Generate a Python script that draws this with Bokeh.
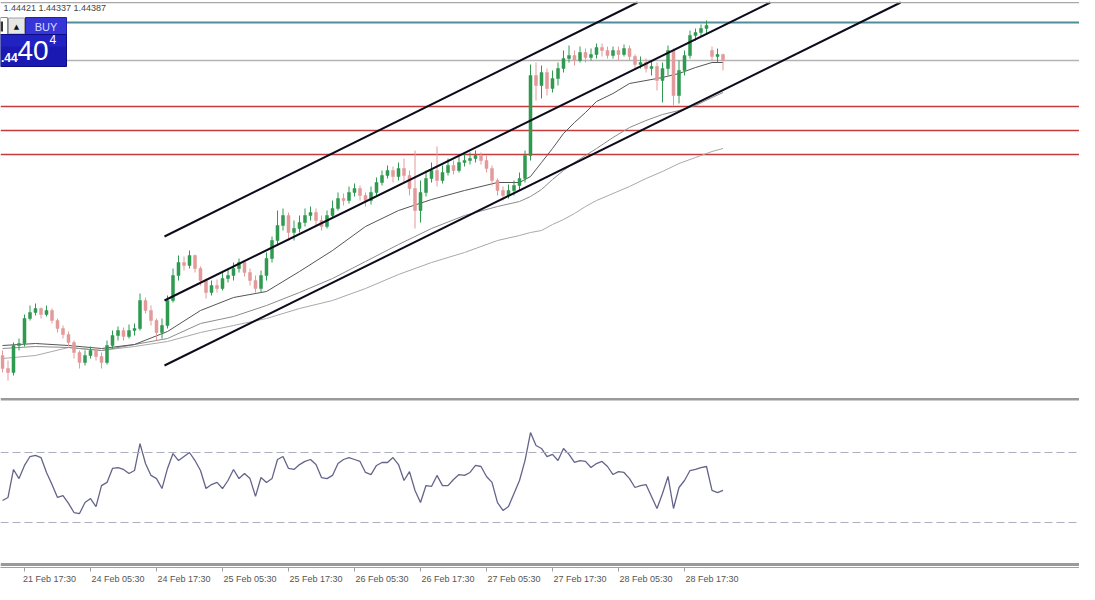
from bokeh.plotting import figure
from bokeh.models import Range1d, LinearAxis, FixedTicker, Span, Label, ColumnDataSource
from bokeh.embed import file_html
from bokeh.resources import INLINE

# ---------------- data ----------------
opens = [1.42912, 1.42847, 1.42827, 1.42962, 1.42972, 1.43097, 1.43127, 1.43147, 1.43117, 1.43137,
         1.43087, 1.43047, 1.43017, 1.42977, 1.42927, 1.42877, 1.42912, 1.42937, 1.42907, 1.42877,
         1.42962, 1.43012, 1.43037, 1.43007, 1.43037, 1.43047, 1.43187, 1.43137, 1.43087, 1.43027,
         1.43062, 1.43187, 1.43312, 1.43377, 1.43362, 1.43412, 1.43347, 1.43287, 1.43227, 1.43262,
         1.43247, 1.43297, 1.43312, 1.43347, 1.43377, 1.43327, 1.43287, 1.43247, 1.43312, 1.43397,
         1.43487, 1.43562, 1.43612, 1.43527, 1.43547, 1.43577, 1.43612, 1.43627, 1.43587, 1.43557,
         1.43612, 1.43647, 1.43697, 1.43687, 1.43727, 1.43747, 1.43712, 1.43687, 1.43727, 1.43777,
         1.43812, 1.43837, 1.43807, 1.43847, 1.43812, 1.43747, 1.43637, 1.43727, 1.43797, 1.43837,
         1.43787, 1.43827, 1.43862, 1.43837, 1.43877, 1.43887, 1.43897, 1.43912, 1.43887, 1.43847,
         1.43787, 1.43737, 1.43712, 1.43737, 1.43762, 1.43797, 1.43912, 1.44312, 1.44262, 1.44327,
         1.44247, 1.44297, 1.44347, 1.44397, 1.44412, 1.44387, 1.44427, 1.44402, 1.44417, 1.44452,
         1.44437, 1.44412, 1.44437, 1.44417, 1.44447, 1.44407, 1.44367, 1.44377, 1.44347, 1.44357,
         1.44287, 1.44347, 1.44437, 1.44212, 1.44337, 1.44412, 1.44512, 1.44527, 1.44547, 1.44437,
         1.44407, 1.44417]
highs = [1.42937, 1.42887, 1.42977, 1.42997, 1.43117, 1.43162, 1.43172, 1.43152, 1.43162, 1.43147,
         1.43097, 1.43062, 1.43032, 1.42987, 1.42937, 1.42937, 1.42957, 1.42952, 1.42927, 1.42987,
         1.43037, 1.43057, 1.43052, 1.43067, 1.43072, 1.43222, 1.43202, 1.43162, 1.43097, 1.43097,
         1.43212, 1.43347, 1.43412, 1.43407, 1.43437, 1.43417, 1.43357, 1.43297, 1.43287, 1.43292,
         1.43327, 1.43347, 1.43377, 1.43397, 1.43387, 1.43347, 1.43312, 1.43337, 1.43427, 1.43507,
         1.43637, 1.43647, 1.43627, 1.43587, 1.43612, 1.43647, 1.43657, 1.43647, 1.43612, 1.43637,
         1.43687, 1.43727, 1.43722, 1.43757, 1.43772, 1.43762, 1.43727, 1.43757, 1.43802, 1.43837,
         1.43862, 1.43857, 1.43877, 1.43897, 1.43837, 1.43937, 1.43787, 1.43837, 1.43877, 1.43957,
         1.43862, 1.43897, 1.43887, 1.43912, 1.43922, 1.43927, 1.43937, 1.43927, 1.43912, 1.43862,
         1.43797, 1.43757, 1.43767, 1.43787, 1.43827, 1.43937, 1.44367, 1.44377, 1.44362, 1.44347,
         1.44337, 1.44377, 1.44437, 1.44462, 1.44437, 1.44457, 1.44447, 1.44447, 1.44472, 1.44472,
         1.44457, 1.44457, 1.44457, 1.44467, 1.44462, 1.44417, 1.44407, 1.44397, 1.44387, 1.44377,
         1.44377, 1.44462, 1.44447, 1.44387, 1.44437, 1.44537, 1.44547, 1.44567, 1.44587, 1.44457,
         1.44447, 1.44421]
lows = [1.42827, 1.42787, 1.42812, 1.42937, 1.42957, 1.43087, 1.43112, 1.43097, 1.43107, 1.43072,
        1.43027, 1.42997, 1.42957, 1.42897, 1.42847, 1.42862, 1.42897, 1.42887, 1.42847, 1.42867,
        1.42947, 1.42987, 1.42987, 1.42997, 1.43012, 1.43037, 1.43122, 1.43062, 1.42987, 1.42997,
        1.43047, 1.43177, 1.43287, 1.43337, 1.43347, 1.43327, 1.43262, 1.43197, 1.43212, 1.43227,
        1.43237, 1.43277, 1.43287, 1.43327, 1.43307, 1.43262, 1.43227, 1.43227, 1.43287, 1.43377,
        1.43462, 1.43537, 1.43487, 1.43487, 1.43527, 1.43557, 1.43587, 1.43562, 1.43537, 1.43547,
        1.43597, 1.43637, 1.43662, 1.43672, 1.43707, 1.43687, 1.43657, 1.43667, 1.43712, 1.43762,
        1.43797, 1.43777, 1.43787, 1.43777, 1.43712, 1.43547, 1.43577, 1.43707, 1.43777, 1.43757,
        1.43772, 1.43812, 1.43817, 1.43827, 1.43857, 1.43867, 1.43877, 1.43867, 1.43827, 1.43762,
        1.43712, 1.43687, 1.43697, 1.43712, 1.43737, 1.43777, 1.43887, 1.44187, 1.44197, 1.44212,
        1.44227, 1.44262, 1.44327, 1.44377, 1.44362, 1.44377, 1.44377, 1.44387, 1.44397, 1.44407,
        1.44397, 1.44397, 1.44387, 1.44407, 1.44387, 1.44347, 1.44347, 1.44327, 1.44312, 1.44237,
        1.44177, 1.44312, 1.44162, 1.44172, 1.44312, 1.44397, 1.44487, 1.44507, 1.44517, 1.44387,
        1.44377, 1.44337]
closes = [1.42847, 1.42827, 1.42962, 1.42972, 1.43097, 1.43127, 1.43147, 1.43117, 1.43137, 1.43087,
          1.43047, 1.43017, 1.42977, 1.42927, 1.42877, 1.42912, 1.42937, 1.42907, 1.42877, 1.42962,
          1.43012, 1.43037, 1.43007, 1.43037, 1.43047, 1.43187, 1.43137, 1.43087, 1.43027, 1.43062,
          1.43187, 1.43312, 1.43377, 1.43362, 1.43412, 1.43347, 1.43287, 1.43227, 1.43262, 1.43247,
          1.43297, 1.43312, 1.43347, 1.43377, 1.43327, 1.43287, 1.43247, 1.43312, 1.43397, 1.43487,
          1.43562, 1.43612, 1.43527, 1.43547, 1.43577, 1.43612, 1.43627, 1.43587, 1.43557, 1.43612,
          1.43647, 1.43697, 1.43687, 1.43727, 1.43747, 1.43712, 1.43687, 1.43727, 1.43777, 1.43812,
          1.43837, 1.43807, 1.43847, 1.43812, 1.43747, 1.43637, 1.43727, 1.43797, 1.43837, 1.43787,
          1.43827, 1.43862, 1.43837, 1.43877, 1.43887, 1.43897, 1.43912, 1.43887, 1.43847, 1.43787,
          1.43737, 1.43712, 1.43737, 1.43762, 1.43797, 1.43912, 1.44312, 1.44262, 1.44327, 1.44247,
          1.44297, 1.44347, 1.44397, 1.44412, 1.44387, 1.44427, 1.44402, 1.44417, 1.44452, 1.44437,
          1.44412, 1.44437, 1.44417, 1.44447, 1.44407, 1.44367, 1.44377, 1.44347, 1.44357, 1.44287,
          1.44347, 1.44437, 1.44212, 1.44337, 1.44412, 1.44512, 1.44527, 1.44547, 1.44562, 1.44407,
          1.44417, 1.44387]
bars = list(range(len(closes)))

ma_bars = [0, 6, 12, 18, 24, 30, 36, 42, 48, 54, 60, 66, 72, 78, 84, 90,
           94, 96, 98, 100, 102, 104, 106, 108, 111, 114, 117, 120, 123, 126, 129, 131]
ma_fast = [1.42962, 1.42972, 1.42962, 1.42947, 1.42967, 1.43032, 1.43137, 1.43202, 1.43232, 1.43332,
           1.43437, 1.43557, 1.43637, 1.43692, 1.43737, 1.43777, 1.43777, 1.43807, 1.43877, 1.43947,
           1.44022, 1.44077, 1.44127, 1.44182, 1.44222, 1.44272, 1.44287, 1.44302, 1.44322, 1.44352,
           1.44377, 1.44377]
ma_mid = [1.42947, 1.42957, 1.42952, 1.42937, 1.42967, 1.42997, 1.43072, 1.43107, 1.43162, 1.43227,
          1.43297, 1.43382, 1.43467, 1.43547, 1.43612, 1.43657, 1.43682, 1.43707, 1.43742, 1.43792,
          1.43837, 1.43877, 1.43912, 1.43947, 1.44002, 1.44052, 1.44087, 1.44117, 1.44137, 1.44162,
          1.44202, 1.44227]
ma_slow = [1.42897, 1.42912, 1.42952, 1.42937, 1.42957, 1.42982, 1.43027, 1.43062, 1.43097, 1.43147,
           1.43187, 1.43247, 1.43317, 1.43377, 1.43427, 1.43487, 1.43512, 1.43527, 1.43537, 1.43567,
           1.43592, 1.43622, 1.43657, 1.43687, 1.43722, 1.43757, 1.43797, 1.43832, 1.43872, 1.43902,
           1.43932, 1.43947]

rsi = [42.6, 44.3, 60.3, 55.1, 62.6, 67.7, 68.3, 67.1, 58.6, 51.7,
       44.3, 45.4, 40.9, 35.7, 35.1, 41.4, 43.7, 39.1, 51.1, 52.9,
       60.9, 61.4, 60.3, 58.0, 59.7, 75.1, 63.7, 56.9, 55.1, 49.4,
       60.9, 69.4, 65.4, 67.7, 70.0, 65.4, 59.7, 49.4, 51.7, 52.9,
       49.4, 54.0, 60.3, 55.1, 58.0, 55.1, 44.9, 55.7, 52.9, 55.1,
       66.0, 67.7, 60.9, 60.3, 63.1, 64.9, 66.0, 63.1, 55.7, 55.1,
       56.9, 63.7, 66.0, 67.1, 66.0, 64.9, 58.6, 57.4, 62.6, 64.3,
       64.3, 67.1, 63.1, 54.0, 59.1, 48.3, 41.4, 51.1, 50.6, 56.9,
       51.1, 51.1, 54.6, 57.4, 56.9, 58.6, 62.6, 62.0, 56.3, 52.9,
       41.4, 36.9, 39.1, 46.6, 54.0, 65.4, 81.4, 74.0, 72.3, 67.7,
       68.9, 65.4, 72.3, 68.9, 64.3, 65.4, 64.9, 61.4, 63.7, 64.9,
       62.0, 57.4, 59.1, 58.6, 55.1, 50.0, 51.1, 51.7, 44.9, 38.0,
       46.6, 56.3, 38.0, 50.0, 54.0, 59.7, 60.3, 61.4, 62.0, 48.3,
       47.1, 48.3]
rsi_levels = [70, 30]

# trend channel (start bar, start price) -> (end bar, end price)
channel_x0 = [29.45, 29.45, 29.45]
channel_y0 = [1.43507, 1.43187, 1.42862]
channel_x1 = [115.45, 139.6, 163.3]
channel_y1 = [1.44677, 1.44677, 1.44677]

level_teal = 1.44577
level_bid = 1.44387
levels_red = [1.44157, 1.44037, 1.43917]

tick_bars = [4, 16, 28, 40, 52, 64, 76, 88, 100, 112, 124]
tick_labels = ["21 Feb 17:30", "24 Feb 05:30", "24 Feb 17:30", "25 Feb 05:30",
               "25 Feb 17:30", "26 Feb 05:30", "26 Feb 17:30", "27 Feb 05:30",
               "27 Feb 17:30", "28 Feb 05:30", "28 Feb 17:30"]

ohlc_text = "1.44421 1.44337 1.44387"

# ---------------- layout helpers (reference pixel -> data) ----------------
def rx(x):
    return (x - 2) / 5.5

def ry(y):
    return 1.44687 - y / 20000.0

def rr(y):  # pixel -> RSI-panel units
    return (574.5 - y) / 1.75

FH = 567
p = figure(frame_width=1079, frame_height=FH,
           x_range=Range1d(rx(0), rx(1079)), y_range=Range1d(ry(FH), ry(0)),
           output_backend="svg", toolbar_location=None,
           x_axis_location=None, y_axis_location=None, min_border=0)
p.extra_y_ranges = {"rsi": Range1d(rr(FH), rr(0))}
p.outline_line_color = None
p.background_fill_color = "white"
p.border_fill_color = "white"
p.grid.visible = False

# horizontal levels (under the candles)
p.add_layout(Span(location=level_teal, dimension="width", line_color="#4f8d99",
                  line_width=2, level="underlay"))
p.add_layout(Span(location=level_bid, dimension="width", line_color="#b4b4b4",
                  line_width=1.5, level="underlay"))
for lv in levels_red:
    p.add_layout(Span(location=lv, dimension="width", line_color="#c43c3c",
                      line_width=1.5, level="underlay"))

# panel borders / separators
p.add_layout(Span(location=ry(2.2), dimension="width", line_color="#a8a8a8", line_width=1.2))
p.add_layout(Span(location=rr(398.8), dimension="width", line_color="#9a9a9a",
                  line_width=2.6, y_range_name="rsi"))
p.add_layout(Span(location=rr(564.0), dimension="width", line_color="#9a9a9a",
                  line_width=3, y_range_name="rsi"))

# moving averages
p.line(ma_bars, ma_slow, line_color="#a9a9a9", line_width=1)
p.line(ma_bars, ma_mid, line_color="#8c8c8c", line_width=1)
p.line(ma_bars, ma_fast, line_color="#555555", line_width=1)

# candles
bull_col, bear_col = "#2f9a50", "#e39a9a"
colors = [bull_col if c >= o else bear_col for o, c in zip(opens, closes)]
src = ColumnDataSource(dict(x=bars, o=opens, h=highs, l=lows, c=closes,
                            top=[max(o, c) for o, c in zip(opens, closes)],
                            bot=[min(o, c) for o, c in zip(opens, closes)],
                            col=colors))
p.segment(x0="x", y0="h", x1="x", y1="l", source=src, line_color="col", line_width=1)
p.vbar(x="x", width=0.55, top="top", bottom="bot", source=src,
       fill_color="col", line_color="col", line_width=0.5)

# channel lines
p.segment(x0=channel_x0, y0=channel_y0, x1=channel_x1, y1=channel_y1,
          line_color="#0c0c1c", line_width=2)

# RSI panel
for lv in rsi_levels:
    p.add_layout(Span(location=lv, dimension="width", line_color="#aeaebe",
                      line_width=1, line_dash="8 4", y_range_name="rsi"))
p.line(bars, rsi, line_color="#64648a", line_width=1.3, y_range_name="rsi")

# time axis (labels start at their tick, as in the terminal)
overrides = {}
for k, (t, s) in enumerate(zip(tick_bars, tick_labels)):
    overrides[t] = ("\u00a0" * (9 if k == 0 else 22)) + s
ax = LinearAxis(ticker=FixedTicker(ticks=tick_bars), major_label_overrides=overrides,
                axis_line_color="#a0a0a0", major_tick_line_color="#a0a0a0",
                major_tick_out=4, major_tick_in=0, minor_tick_line_color=None,
                major_label_text_font="Liberation Sans", major_label_text_font_size="9px",
                major_label_text_color="#555555", major_label_standoff=2)
p.add_layout(ax, "below")

# OHLC text and one-click trading panel
p.add_layout(Label(x=rx(3), y=ry(7.5), text=ohlc_text, text_font="Liberation Sans",
                   text_font_size="9px", text_color="#444444", text_baseline="middle"))
p.quad(left=rx(0), right=rx(7), top=ry(17), bottom=ry(34), fill_color="white", line_color="#8a8a8a")
p.quad(left=rx(0), right=rx(2.5), top=ry(21), bottom=ry(31), fill_color="#333333", line_color=None)
p.quad(left=rx(8), right=rx(24), top=ry(17.5), bottom=ry(33.5), fill_color="#e6e6e6", line_color="#a0a0a0")
p.quad(left=rx(25), right=rx(66), top=ry(17), bottom=ry(34), fill_color="#3636d8", line_color="#2020a8")
p.quad(left=rx(0), right=rx(66), top=ry(34), bottom=ry(66), fill_color="#1a1ab2", line_color="#0c0c84")
p.quad(left=rx(0.5), right=rx(65.5), top=ry(34.5), bottom=ry(46), fill_color="#2222c2", line_color=None)
p.add_layout(Label(x=rx(16), y=ry(26), text="\u25b2", text_font="DejaVu Sans", text_font_size="7px",
                   text_color="#111111", text_align="center", text_baseline="middle"))
p.add_layout(Label(x=rx(45.5), y=ry(26), text="BUY", text_font="Liberation Sans", text_font_size="11px",
                   text_color="#d6dcff", text_align="center", text_baseline="middle"))
p.add_layout(Label(x=rx(0.5), y=ry(56.5), text=".44", text_font="Liberation Sans", text_font_size="12px",
                   text_font_style="bold", text_color="white", text_baseline="middle"))
p.add_layout(Label(x=rx(17), y=ry(50), text="40", text_font="Liberation Sans", text_font_size="28px",
                   text_color="white", text_baseline="middle"))
p.add_layout(Label(x=rx(49), y=ry(39), text="4", text_font="Liberation Sans", text_font_size="12px",
                   text_color="white", text_baseline="middle"))

open("out.html", "w").write(file_html(p, INLINE))
